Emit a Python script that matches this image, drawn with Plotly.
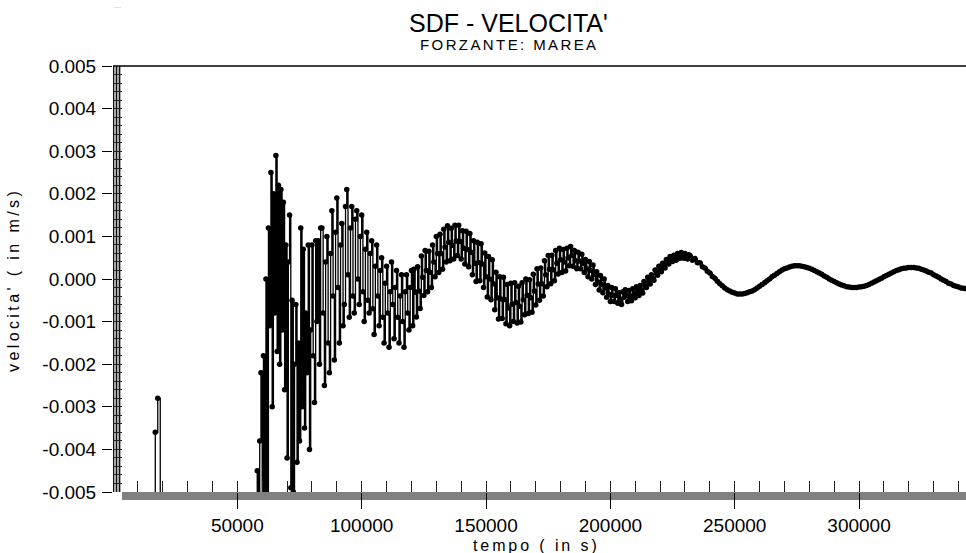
import numpy as np
import plotly.graph_objects as go

# ---------------------------------------------------------------------------
# Velocity record (m/s). The transient part is sampled every 500 s,
# the settled tidal part every 1000 s.
# ---------------------------------------------------------------------------
dt_fine = 500
t_fine_start = 57000

vel_onset = [
    -0.0095, -0.0090, -0.0045, -0.0092, -0.0038, -0.0022, -0.0090, -0.0018, -0.0086, 0.0000,
    -0.0080, 0.0012, -0.0011, 0.0025, -0.0030, 0.0020, -0.0008, 0.0029, -0.0017, 0.0022,
    -0.0020, 0.0021, -0.0012, 0.0018, -0.0026, 0.0008, -0.0042, 0.0004, 0.0015, -0.0049,
    -0.0005, -0.0050, -0.0020, -0.0006, -0.0043, -0.0015, -0.0038, 0.0012, -0.0030, 0.0007,
    -0.0035, -0.0008, -0.0022, 0.0008, -0.0040, -0.0012, 0.0008, -0.0018, -0.0029, 0.0009,
    -0.0010, 0.0009, -0.0020, 0.0012]
vel_transient = [
    0.0012, -0.0008, -0.0025, 0.0004, 0.0010, -0.0015, -0.0022, 0.0006, 0.0016, -0.0004,
    -0.0019, 0.0011, 0.0019, -0.0002, -0.0015, 0.0008, 0.0013, -0.0011, -0.0006, 0.0017,
    0.0021, 0.0001, -0.0009, 0.0012, 0.0017, -0.0004, -0.0008, 0.0014, 0.0016, 0.0000,
    -0.0006, 0.0010, 0.0015, -0.0003, -0.0010, 0.0007, 0.0011, -0.0005, -0.0008, 0.0006,
    0.0009, -0.0007, -0.0013, 0.0003, 0.0008, -0.0004, -0.0011, 0.0002, 0.0005, -0.0009,
    -0.0015, -0.0001, 0.0003, -0.0008, -0.0016, -0.0003, 0.0004, -0.0006, -0.0014, -0.0002,
    0.0002, -0.0009, -0.0015, -0.0004, 0.0001, -0.0010, -0.0016, -0.0003, 0.0001, -0.0008,
    -0.0012, -0.0002, 0.0002, -0.0011]
vel_hump = [
    0.00023, -0.00031, -0.00089, 0.00029, -0.00028, -0.00069, 0.00054, 0.00004, -0.00039, 0.00067,
    0.00020, -0.00030, 0.00065, 0.00016, -0.00020, 0.00080, 0.00040, 0.00005, 0.00100, 0.00060,
    0.00015, 0.00105, 0.00060, 0.00023, 0.00117, 0.00075, 0.00040, 0.00125, 0.00086, 0.00043,
    0.00119, 0.00079, 0.00047, 0.00126, 0.00089, 0.00055, 0.00126, 0.00088, 0.00047, 0.00113,
    0.00072, 0.00035, 0.00112, 0.00069, 0.00029, 0.00107, 0.00063, 0.00010, 0.00090, 0.00037,
    -0.00006, 0.00086, 0.00039, -0.00004, 0.00083, 0.00035, -0.00020, 0.00061, 0.00005, -0.00042,
    0.00053, 0.00000, -0.00049, 0.00045, -0.00011, -0.00072, 0.00016, -0.00044, -0.00094, 0.00005,
    -0.00047, -0.00093, 0.00004, -0.00048, -0.00105, -0.00013, -0.00068, -0.00110, -0.00010, -0.00059,
    -0.00100, -0.00009, -0.00055, -0.00103, -0.00017, -0.00064, -0.00101, -0.00009, -0.00049, -0.00084,
    0.00000, -0.00038, -0.00081, -0.00002, -0.00044, -0.00078, 0.00011, -0.00028, -0.00061, 0.00024,
    -0.00012, -0.00050, 0.00026, -0.00011, -0.00040, 0.00043, 0.00010, -0.00018, 0.00055, 0.00023,
    -0.00011, 0.00056, 0.00022, -0.00004, 0.00067, 0.00037, 0.00012, 0.00072, 0.00045, 0.00015,
    0.00069, 0.00040, 0.00019, 0.00072, 0.00050, 0.00031, 0.00076, 0.00055, 0.00030, 0.00067,
    0.00043, 0.00024, 0.00063, 0.00042, 0.00024, 0.00058, 0.00037, 0.00015, 0.00046, 0.00024,
    0.00005, 0.00041, 0.00020, 0.00000, 0.00033, 0.00011, -0.00013, 0.00017, -0.00007, -0.00026,
    0.00008, -0.00013, -0.00032, 0.00000, -0.00021, -0.00043, -0.00015, -0.00036, -0.00053, -0.00020,
    -0.00038, -0.00053, -0.00023, -0.00039, -0.00057, -0.00032, -0.00048, -0.00060, -0.00030, -0.00043]
vel_tide_early = [
    -0.00025, -0.00039, -0.00053, -0.00027, -0.00041, -0.00051, -0.00023, -0.00035, -0.00044, -0.00018,
    -0.00028, -0.00039, -0.00015, -0.00025, -0.00033, -0.00006, -0.00014, -0.00020, 0.00004, -0.00004,
    -0.00012, 0.00010, 0.00002, -0.00003, 0.00021, 0.00014, 0.00009, 0.00030, 0.00024, 0.00017,
    0.00037, 0.00030, 0.00026, 0.00046, 0.00040, 0.00035, 0.00053, 0.00047, 0.00041, 0.00056,
    0.00049, 0.00044, 0.00060, 0.00054, 0.00049, 0.00062, 0.00056, 0.00049, 0.00060, 0.00053,
    0.00047, 0.00057]

dt_coarse = 1000
t_coarse_start = 232000
vel_tide = [
    0.00055, 0.00044, 0.00048, 0.00038, 0.00038, 0.00029, 0.00026, 0.00018, 0.00014, 0.00006,
    0.00002, -0.00005, -0.00011, -0.00016, -0.00021, -0.00025, -0.00028, -0.00031, -0.00033, -0.00035,
    -0.00035, -0.00035, -0.00034, -0.00032,
    -0.00030, -0.00028, -0.00025, -0.00021, -0.00017, -0.00013, -0.00009, -0.00004, 0.00000, 0.00005,
    0.00009, 0.00013, 0.00017, 0.00021, 0.00024, 0.00026, 0.00028, 0.00030, 0.00031, 0.00031,
    0.00031, 0.00030, 0.00029, 0.00027, 0.00025, 0.00023, 0.00020, 0.00017, 0.00014, 0.00011,
    0.00007, 0.00004, 0.00000, -0.00003, -0.00006, -0.00009, -0.00012, -0.00014, -0.00016, -0.00018,
    -0.00019, -0.00020, -0.00020, -0.00020, -0.00019, -0.00018, -0.00017, -0.00015, -0.00013, -0.00010,
    -0.00007, -0.00004, -0.00001, 0.00002, 0.00005, 0.00008, 0.00011, 0.00014, 0.00017, 0.00020,
    0.00022, 0.00024, 0.00025, 0.00026, 0.00027, 0.00027, 0.00027, 0.00026, 0.00025, 0.00023,
    0.00021, 0.00019, 0.00016, 0.00014, 0.00010, 0.00007, 0.00004, 0.00000, -0.00003, -0.00006,
    -0.00010, -0.00012, -0.00015, -0.00017, -0.00019, -0.00021, -0.00022, -0.00023, -0.00023]

# Isolated early samples
early_time = [16000, 17000, 18000, 19000]
early_vel = [-0.0200, -0.0036, -0.0028, -0.0200]

vel_fine = vel_onset + vel_transient + vel_hump + vel_tide_early
time_fine = t_fine_start + dt_fine * np.arange(len(vel_fine))
time_coarse = t_coarse_start + dt_coarse * np.arange(len(vel_tide))
time = np.concatenate([time_fine, time_coarse])
velocity = vel_fine + vel_tide

x_ticks = [50000, 100000, 150000, 200000, 250000, 300000]
y_ticks = [-0.005, -0.004, -0.003, -0.002, -0.001, 0.0, 0.001, 0.002, 0.003, 0.004, 0.005]
y_tick_text = ["-0.005", "-0.004", "-0.003", "-0.002", "-0.001", "0.000",
               "0.001", "0.002", "0.003", "0.004", "0.005"]
x_range = [0, 343000]
y_range = [-0.005, 0.005]

FONT = "Liberation Sans, Arial, sans-serif"
W, H = 966, 553
L, R, T, B = 113, 0, 66, 61
PW, PH = W - L - R, H - T - B


def px_x(p):
    return (p - L) / PW


def px_y(p):
    return (H - B - p) / PH


def spaced(text, px):
    return f'<span style="letter-spacing:{px}px">{text}</span>'


line_style = dict(color="black", width=1.3, shape="hv")
marker_style = dict(color="black", size=5.5)

fig = go.Figure()
fig.add_trace(go.Scatter(x=early_time, y=early_vel, mode="lines+markers",
                         line=line_style, marker=marker_style, showlegend=False, hoverinfo="skip"))
fig.add_trace(go.Scatter(x=time, y=velocity, mode="lines+markers",
                         line=line_style, marker=marker_style, showlegend=False))
# empty trace so the overlay axes (inner tick rows) get drawn
fig.add_trace(go.Scatter(x=[None], y=[None], xaxis="x2", yaxis="y2",
                         showlegend=False, hoverinfo="skip"))

axis_common = dict(showgrid=False, zeroline=False, showline=False)

fig.update_layout(
    width=W, height=H,
    margin=dict(l=L, r=R, t=T, b=B, pad=0),
    paper_bgcolor="white", plot_bgcolor="white",
    font=dict(family=FONT, color="black"),
    xaxis=dict(range=x_range, tickvals=x_ticks, ticktext=[str(v) for v in x_ticks],
               ticks="outside", ticklen=16, tickwidth=1, tickcolor="black",
               tickfont=dict(size=19, family=FONT, color="black"), **axis_common),
    xaxis2=dict(range=x_range, overlaying="x", side="bottom", tick0=0, dtick=10000,
                ticks="inside", ticklen=11, tickwidth=1, tickcolor="#222",
                showticklabels=False, **axis_common),
    yaxis=dict(range=y_range, tickvals=y_ticks, ticktext=y_tick_text,
               ticks="outside", ticklen=10, tickwidth=1, tickcolor="black",
               ticklabelstandoff=2,
               tickfont=dict(size=19, family=FONT, color="black"), **axis_common),
    yaxis2=dict(range=y_range, overlaying="y", side="left", tick0=-0.005, dtick=0.0002,
                ticks="inside", ticklen=9, tickwidth=1, tickcolor="#222",
                showticklabels=False, **axis_common),
)

shapes = [
    # grey base strip under the time axis
    dict(type="rect", xref="paper", yref="paper", x0=px_x(122), x1=1,
         ysizemode="pixel", yanchor=0, y0=-8, y1=0,
         fillcolor="#808080", line=dict(width=0), layer="below"),
    # hatched strip along the velocity axis
    dict(type="rect", yref="paper", xref="paper", y0=0, y1=1,
         xsizemode="pixel", xanchor=0, x0=0, x1=8,
         fillcolor="#a8a8a8", line=dict(width=0), layer="below"),
    # top frame line
    dict(type="line", xref="paper", yref="paper", x0=0, x1=1, y0=1, y1=1,
         line=dict(color="black", width=1.5)),
]
for off in (0.5, 3.5, 6.5):
    shapes.append(dict(type="line", yref="paper", xref="paper", y0=0, y1=1,
                       xsizemode="pixel", xanchor=0, x0=off, x1=off,
                       line=dict(color="#111", width=1), layer="below"))
fig.update_layout(shapes=shapes)

annotations = [
    dict(text="SDF - VELOCITA'", x=px_x(508), y=px_y(23.5), xref="paper", yref="paper",
         xanchor="center", yanchor="middle", showarrow=False,
         font=dict(size=25, family=FONT, color="black")),
    dict(text=spaced("FORZANTE: MAREA", 2.4), x=px_x(509), y=px_y(44.5), xref="paper", yref="paper",
         xanchor="center", yanchor="middle", showarrow=False,
         font=dict(size=15, family=FONT, color="black")),
    dict(text=spaced("tempo ( in s)", 2.9), x=px_x(536), y=px_y(545), xref="paper", yref="paper",
         xanchor="center", yanchor="middle", showarrow=False,
         font=dict(size=16, family=FONT, color="black")),
    dict(text=spaced("velocita' ( in m/s)", 3.4), x=px_x(13), y=px_y(280), xref="paper", yref="paper",
         xanchor="center", yanchor="middle", textangle=-90, showarrow=False,
         font=dict(size=16, family=FONT, color="black")),
    dict(text=".....", x=px_x(117), y=px_y(6), xref="paper", yref="paper",
         xanchor="center", yanchor="middle", showarrow=False,
         font=dict(size=5, family=FONT, color="#666")),
]
fig.update_layout(annotations=annotations)

fig.write_html("out.html")
